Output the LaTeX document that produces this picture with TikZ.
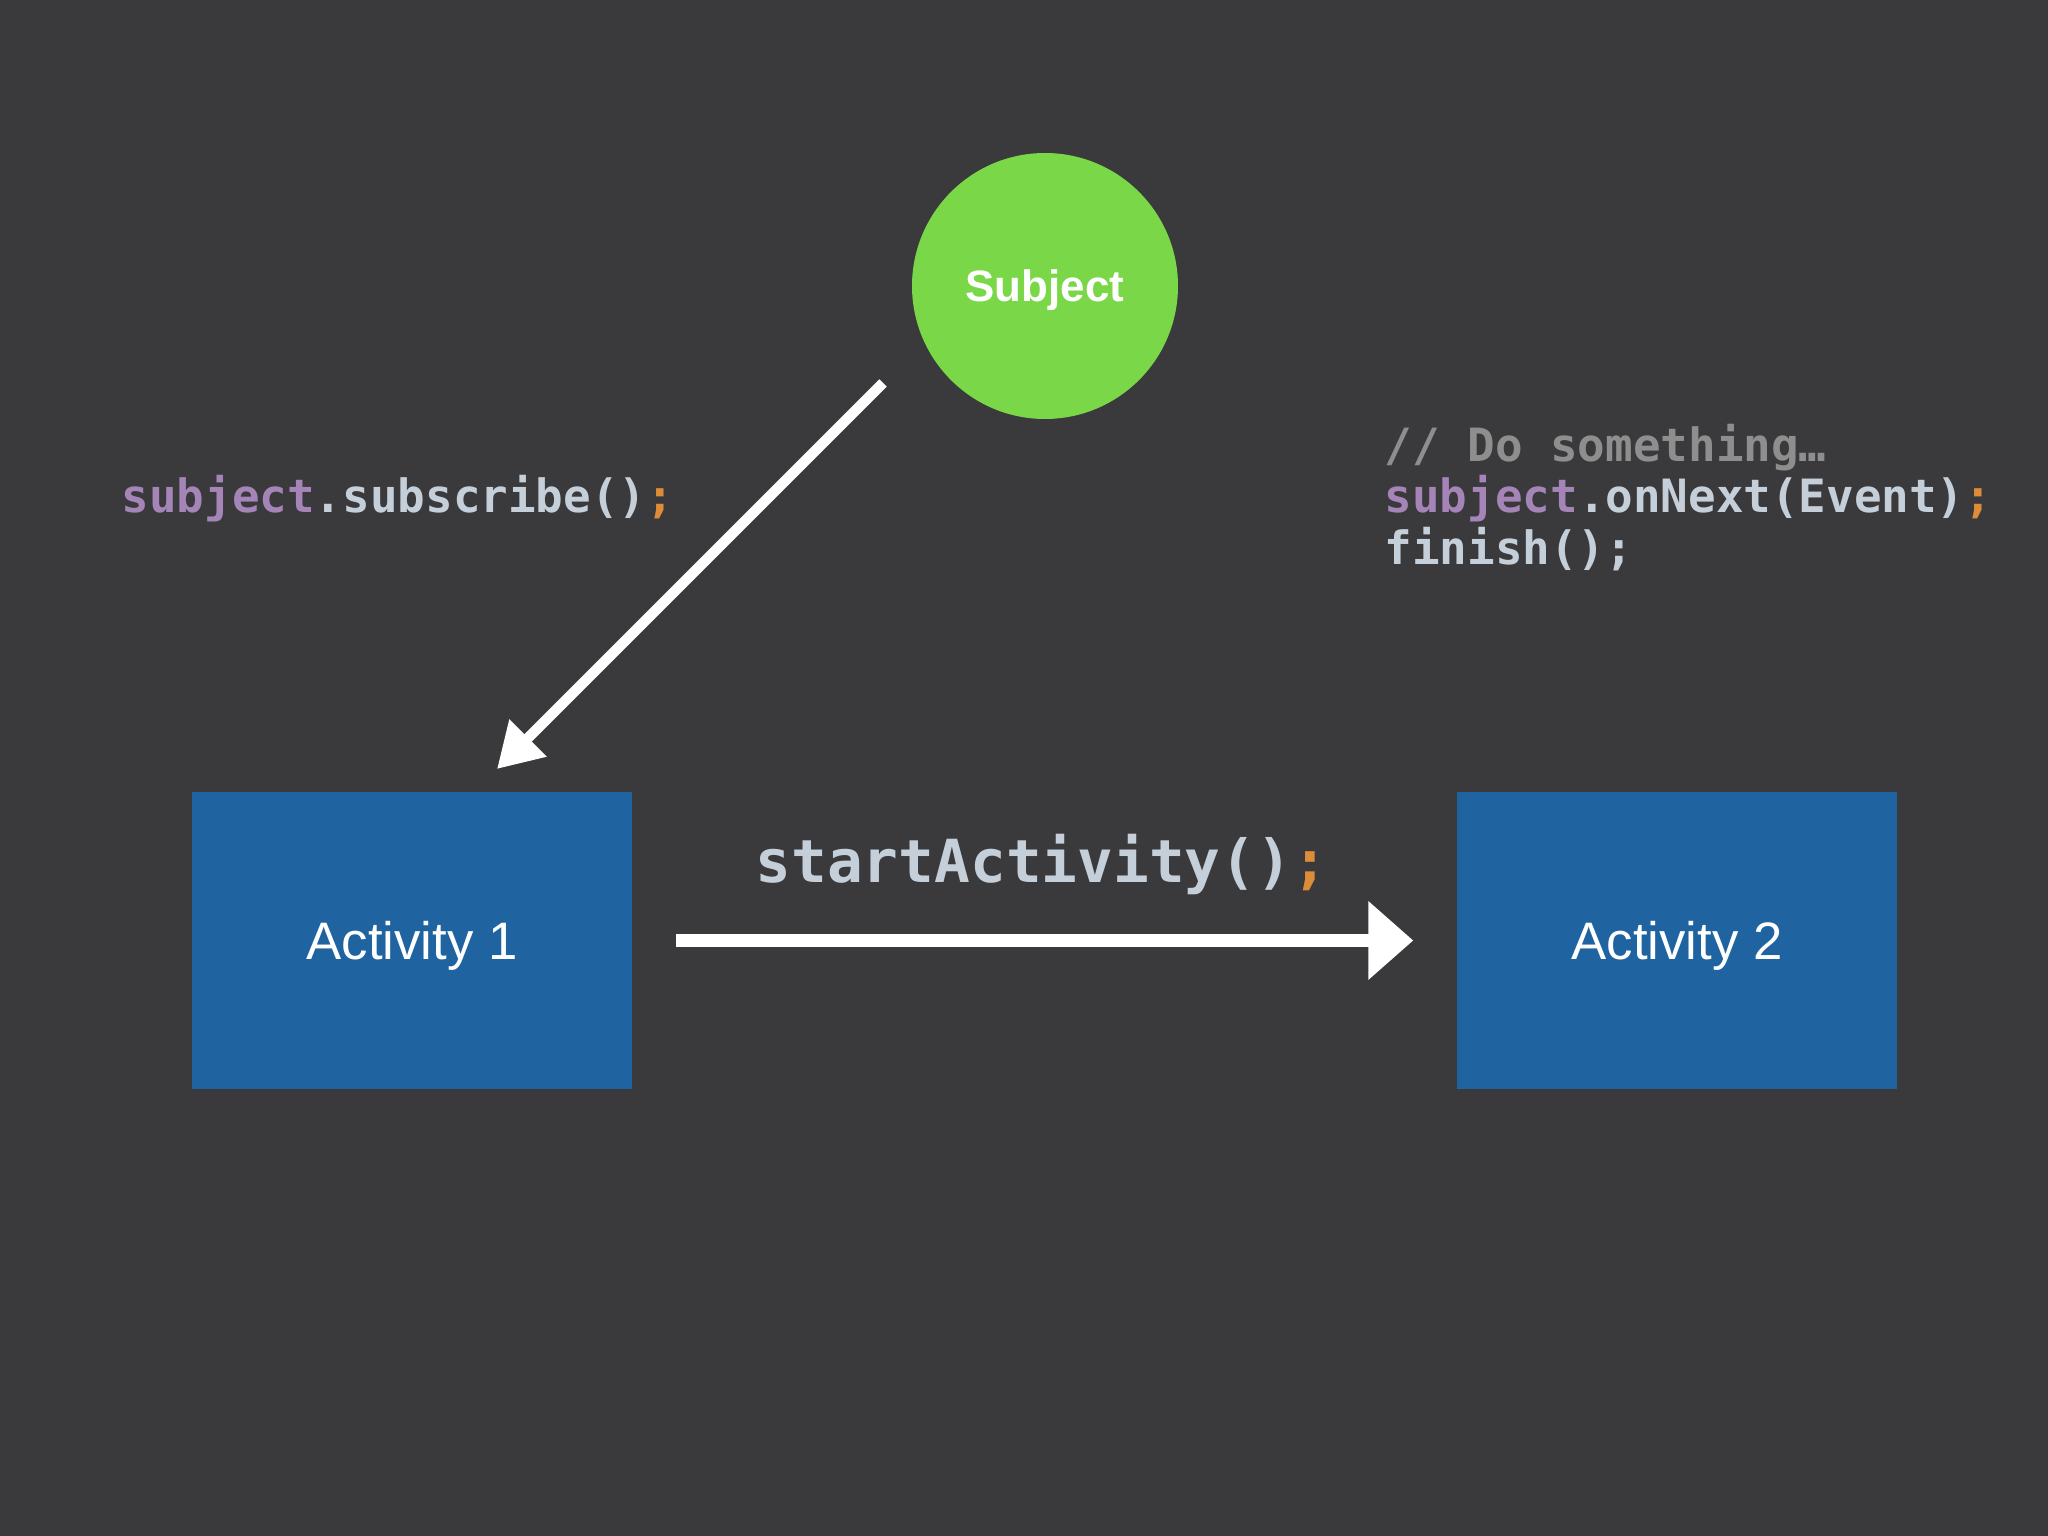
\documentclass[tikz,border=0pt]{standalone}
\usepackage{fontspec}
\setmainfont{Liberation Sans}
\newfontfamily\codefont{DejaVu Sans Mono}
\usetikzlibrary{arrows.meta}
\definecolor{bgcol}{HTML}{3A393B}
\definecolor{subjgreen}{HTML}{7AD848}
\definecolor{actblue}{HTML}{1F64A0}
\definecolor{codepurple}{HTML}{A585B8}
\definecolor{codelight}{HTML}{C5CFD9}
\definecolor{codeorange}{HTML}{DD8C38}
\definecolor{codegray}{HTML}{8E8E8E}
\newcommand\pur[1]{\textcolor{codepurple}{#1}}
\newcommand\ora[1]{\textcolor{codeorange}{#1}}

\begin{document}
\begin{tikzpicture}[
    subj/.style={circle,fill=subjgreen,minimum size=2.66cm,inner sep=0pt,text=white,
      text depth=0pt,font=\fontsize{12.5}{15}\selectfont\bfseries},
    act/.style={rectangle,fill=actblue,minimum width=4.4cm,minimum height=2.97cm,
      text=white,text depth=0pt,font=\fontsize{15}{18}\selectfont},
    code/.style={anchor=base west,inner sep=0pt,text=codelight,
      font=\codefont\bfseries\fontsize{13.05}{15}\selectfont},
    flow/.style={white,line width=3.7pt,-{Triangle[length=0.45cm,width=0.76cm]}},
    diag/.style={white,line width=3pt,-{Triangle[length=0.44cm,width=0.5cm]}}]
  \fill[bgcol](0,0)rectangle(20.48,-15.36);
  \coordinate(S) at (10.45,-2.86);
  \coordinate(D1) at (8.83,-3.83);
  \coordinate(D2) at (4.97,-7.69);

  \node[subj](subj) at (S){Subject};
  \node[act](A1) at (4.12,-9.405){Activity 1};
  \node[act](A2) at (16.77,-9.405){Activity 2};

  \draw[diag](D1)--(D2);
  \draw[flow,shorten <=0.43cm,shorten >=0.43cm](A1.east)--(A2.west);

  \node[code](sub) at (1.21,-5.13){\pur{subject}.subscribe()\ora{;}};
  \node[code,text=codegray](do) at (13.84,-4.62){// Do something…};
  \node[code](next) at (13.84,-5.13){\pur{subject}.onNext(Event)\ora{;}};
  \node[code](fin) at (13.84,-5.65){finish();};
  \node[code,font=\codefont\bfseries\fontsize{16.9}{20}\selectfont](start) at (7.55,-8.83){startActivity()\ora{;}};
\end{tikzpicture}
\end{document}
